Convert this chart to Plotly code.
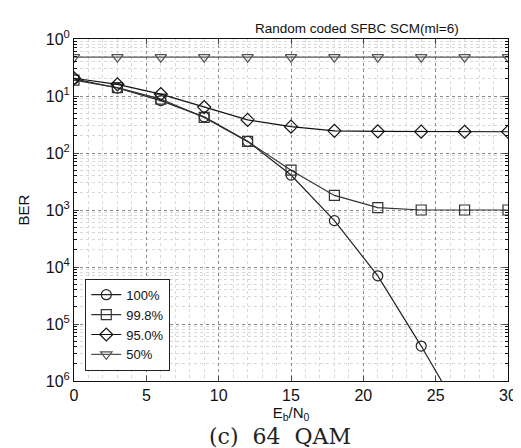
import plotly.graph_objects as go

snr = [0, 3, 6, 9, 12, 15, 18, 21, 24, 27, 30]
ber_100 = [0.2, 0.138, 0.083, 0.043, 0.016, 0.0041, 6.5e-4, 7e-5, 4.1e-6, 1.8e-7, 1e-8]
ber_998 = [0.19, 0.14, 0.088, 0.042, 0.016, 0.005, 1.8e-3, 1.1e-3, 1.0e-3, 1.0e-3, 1.0e-3]
ber_950 = [0.205, 0.16, 0.108, 0.064, 0.038, 0.029, 0.0245, 0.024, 0.0237, 0.0236, 0.0236]
ber_50 = [0.48, 0.48, 0.48, 0.48, 0.48, 0.48, 0.48, 0.48, 0.48, 0.48, 0.48]
names = ["100%", "99.8%", "95.0%", "50%"]
symbols = ["circle-open", "square-open", "diamond-open", "triangle-down-open"]
colors = ["#222222", "#333333", "#111111", "#555555"]
ytickvals = [1, 1e-1, 1e-2, 1e-3, 1e-4, 1e-5, 1e-6]
yticktext = ["10<sup>0</sup>", "10<sup>1</sup>", "10<sup>2</sup>", "10<sup>3</sup>",
             "10<sup>4</sup>", "10<sup>5</sup>", "10<sup>6</sup>"]
xtickvals = [0, 5, 10, 15, 20, 25, 30]

fig = go.Figure()
for ys, nm, sym, col in zip([ber_100, ber_998, ber_950, ber_50], names, symbols, colors):
    fig.add_trace(go.Scatter(x=snr, y=ys, name=nm, mode="lines+markers",
                             line=dict(color=col, width=1.2),
                             marker=dict(symbol=sym, size=10, color=col, line=dict(width=1.2))))

font = dict(family="Liberation Sans, Arial, sans-serif", size=16, color="#111")
fig.update_layout(
    width=521, height=448,
    margin=dict(l=65.5, r=17, t=31, b=75),
    paper_bgcolor="white", plot_bgcolor="white",
    font=font, showlegend=True,
    legend=dict(x=0.026, y=0.03, xanchor="left", yanchor="bottom",
                bordercolor="#222", borderwidth=1, bgcolor="white",
                font=dict(family="Liberation Sans, Arial, sans-serif", size=13),
                tracegroupgap=0),
)
fig.update_xaxes(range=[0, 30], tickvals=xtickvals, ticks="inside", ticklen=5,
                 showline=True, linecolor="#111", linewidth=1, mirror="ticks",
                 showgrid=True, gridcolor="#888", griddash="dot", gridwidth=1,
                 zeroline=False, tickfont=dict(size=16),
                 minor=dict(dtick=1, showgrid=True, gridcolor="#d8d8d8", griddash="dot", ticks=""),
                 title=dict(text="E<sub>b</sub>/N<sub>0</sub>", standoff=4, font=dict(size=15)))
fig.update_yaxes(type="log", range=[-6, 0], tickvals=ytickvals, ticktext=yticktext,
                 ticks="inside", ticklen=5,
                 showline=True, linecolor="#111", linewidth=1, mirror="ticks",
                 showgrid=True, gridcolor="#888", griddash="dot", gridwidth=1,
                 zeroline=False, tickfont=dict(size=16),
                 minor=dict(dtick="D1", showgrid=True, gridcolor="#d8d8d8", griddash="dot",
                            ticks="inside", ticklen=3, tickcolor="#111"),
                 title=dict(text="BER", standoff=12, font=dict(size=15)))
fig.add_annotation(text="Random coded SFBC SCM(ml=6)", xref="paper", yref="paper",
                   x=0.651, y=1.0, xanchor="center", yanchor="bottom", showarrow=False,
                   font=dict(size=13.5), yshift=1)
fig.add_annotation(text="(c)&nbsp;&nbsp;64&nbsp;&nbsp;QAM", xref="paper", yref="paper",
                   x=0.474, y=0, xanchor="center", yanchor="middle", showarrow=False,
                   font=dict(family="DejaVu Serif, Liberation Serif, serif", size=22, color="#222"),
                   yshift=-55)
fig.write_html("out.html")
